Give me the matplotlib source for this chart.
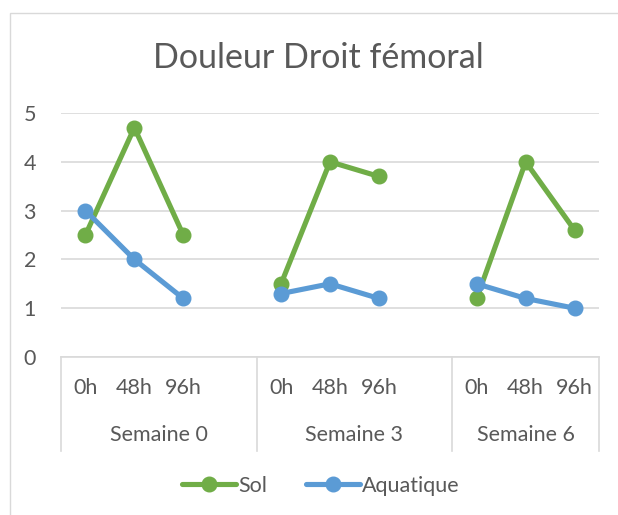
import numpy as np
import matplotlib
matplotlib.use('Agg')
import matplotlib.pyplot as plt
from matplotlib.patches import Rectangle

plt.rcParams['font.family'] = ['Lato', 'DejaVu Sans']

# donnees
semaines = ['Semaine 0', 'Semaine 3', 'Semaine 6']
heures = ['0h', '48h', '96h']
sol = [[2.5, 4.7, 2.5], [1.5, 4.0, 3.7], [1.2, 4.0, 2.6]]
aquatique = [[3.0, 2.0, 1.2], [1.3, 1.5, 1.2], [1.5, 1.2, 1.0]]

vert = '#70AD47'
bleu = '#5B9BD5'
gris_txt = '#595959'
gris_ligne = '#D9D9D9'

W, H = 618, 515
fig = plt.figure(figsize=(W / 100, H / 100), dpi=100)

# bordure de la zone de graphique
fig.patches.append(Rectangle((10 / W, -0.1), 1.2, 1 - 13 / H + 0.1, transform=fig.transFigure,
                             fill=False, edgecolor=gris_ligne, linewidth=1))

left, right = 61 / W, 599 / W
bottom, top = 1 - 357 / H, 1 - 113 / H
ax = fig.add_axes([left, bottom, right - left, top - bottom])

# positions : 4 emplacements par semaine (dernier vide), sauf la derniere
starts = [0, 4, 8]
for i, s in enumerate(starts):
    xs = [s + k for k in range(len(heures))]
    ax.plot(xs, sol[i], color=vert, lw=3.7, marker='o', ms=10.5, solid_capstyle='round',
            label='Sol' if i == 0 else None, zorder=3)
    ax.plot(xs, aquatique[i], color=bleu, lw=3.7, marker='o', ms=10.5, solid_capstyle='round',
            label='Aquatique' if i == 0 else None, zorder=4)

ax.set_xlim(-0.5, 10.5)
ax.set_ylim(0, 5)
ax.set_yticks(range(6))
ax.grid(axis='y', color=gris_ligne, lw=1.2)
ax.set_axisbelow(True)
for sp in ['top', 'right', 'left']:
    ax.spines[sp].set_visible(False)
ax.spines['bottom'].set_color(gris_ligne)
ax.spines['bottom'].set_linewidth(1.2)
ax.tick_params(axis='y', length=0, pad=18, labelsize=15.5, labelcolor=gris_txt)
ax.set_xticks([])

# axe categories a deux niveaux
trans = ax.get_xaxis_transform()
sep_bas = -(451 - 357) / (357 - 113)
for xb in [-0.5, 3.5, 7.5, 10.5]:
    ax.plot([xb, xb], [0, sep_bas], color=gris_ligne, lw=1.2, transform=trans, clip_on=False)
y_h = -(388 - 357) / (357 - 113)
y_s = -(435 - 357) / (357 - 113)
for i, s in enumerate(starts):
    for k, h in enumerate(heures):
        ax.text(s + k, y_h, h, transform=trans, ha='center', va='center',
                fontsize=15.5, color=gris_txt)
    fin = 3.5 if i < 2 else 2.5
    ax.text(s - 0.5 + (fin + 0.5) / 2, y_s, semaines[i], transform=trans,
            ha='center', va='center', fontsize=15.5, color=gris_txt)

fig.text(0.515, 1 - 58 / H, 'Douleur Droit fémoral', ha='center', va='center',
         fontsize=24.5, color=gris_txt)

leg = fig.legend(loc='center', bbox_to_anchor=(0.519, 1 - 486 / H), ncol=2, frameon=False,
                 fontsize=15.5, handlelength=2.5, columnspacing=1.8, handletextpad=0.1)
for t in leg.get_texts():
    t.set_color(gris_txt)

fig.savefig('out.png', dpi=100)
